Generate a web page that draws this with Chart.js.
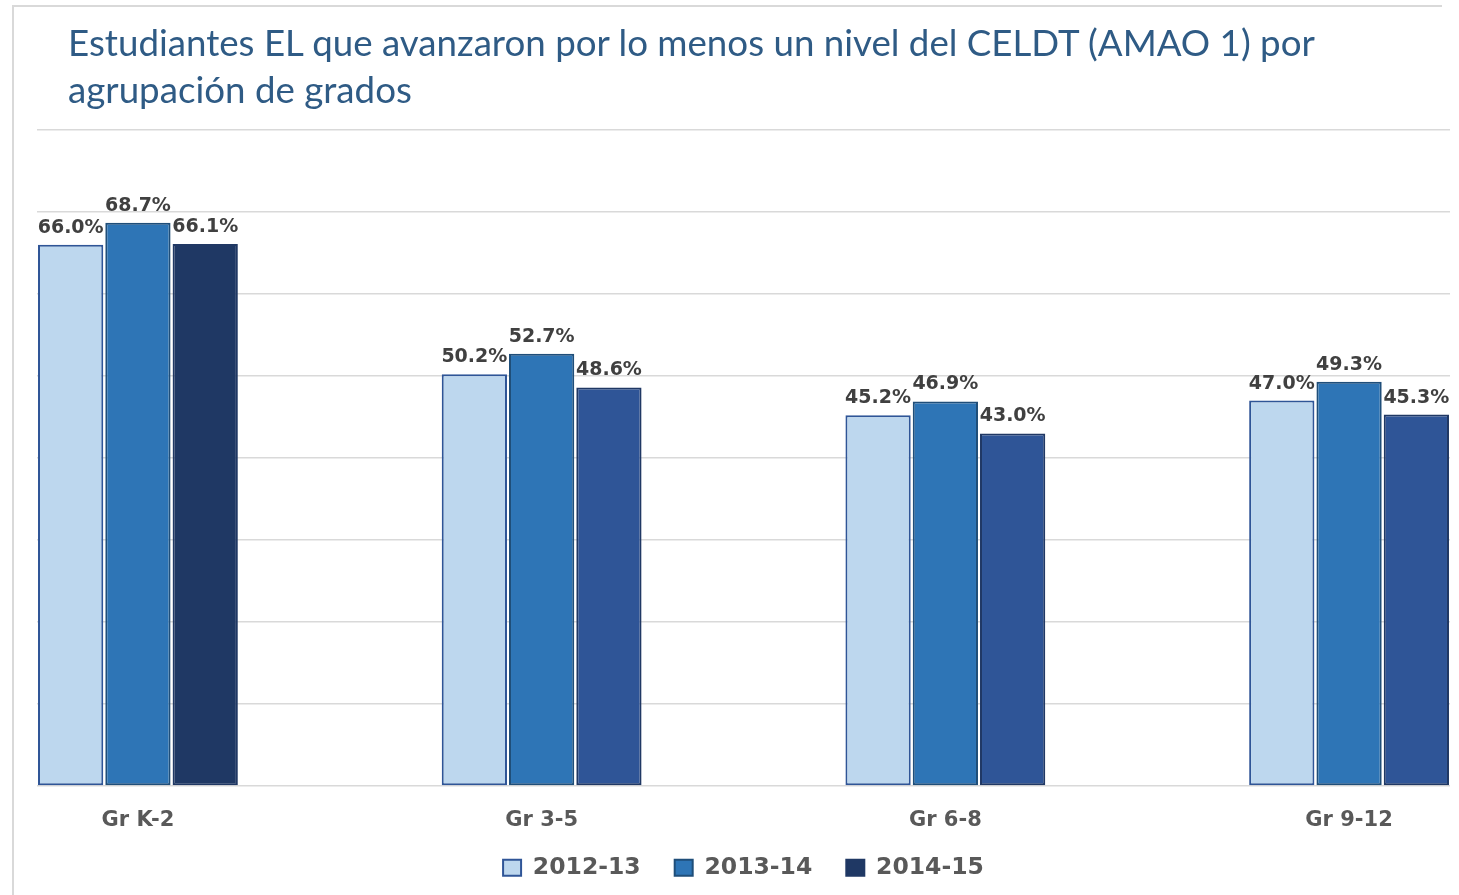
<!DOCTYPE html>
<html>
<head>
<meta charset="utf-8">
<script src="https://cdn.jsdelivr.net/npm/chart.js@4"></script>
<style>
  body { margin: 0; background: #fff; }
  #wrap { position: relative; width: 1459px; height: 895px; overflow: hidden; }
  #frame { position: absolute; left: 12px; top: 5px; width: 1428px; height: 900px;
    border-top: 2px solid #d9d9d9; border-left: 2px solid #d9d9d9; }
  #title { position: absolute; left: 68px; top: 19px; font-family: Lato, sans-serif;
    font-size: 36.7px; line-height: 47px; color: #2f5b85; }
  canvas { position: absolute; left: 0; top: 0; }
</style>
</head>
<body>
<div id="wrap">
  <div id="frame"></div>
  <canvas id="chart" width="1459" height="895"></canvas>
  <div id="title">Estudiantes EL que avanzaron por lo menos un nivel del CELDT (AMAO 1) por<br>agrupación de grados</div>
</div>
<script>
const grades = ["Gr K-2", "Gr 3-5", "Gr 6-8", "Gr 9-12"];
const years = ["2012-13", "2013-14", "2014-15"];
const y2012 = [66.0, 50.2, 45.2, 47.0];
const y2013 = [68.7, 52.7, 46.9, 49.3];
const y2014 = [66.1, 48.6, 43.0, 45.3];
const yTicks = [0, 10, 20, 30, 40, 50, 60, 70, 80];

const fills = ["#bdd7ee", "#2e75b6", "#2f5597"];
const borders = ["#2f5597", "#1f4e79", "#203864"];

const points = vals => vals.map((v, i) => ({ x: i, y: v }));

const barLabels = {
  id: "barLabels",
  afterDatasetsDraw(chart) {
    const ctx = chart.ctx;
    ctx.save();
    ctx.font = "bold 19px 'DejaVu Sans'";
    ctx.fillStyle = "#404040";
    ctx.textAlign = "center";
    ctx.textBaseline = "alphabetic";
    chart.data.datasets.forEach((ds, di) => {
      chart.getDatasetMeta(di).data.forEach((bar, i) => {
        ctx.fillText(ds.data[i].y.toFixed(1) + "%", bar.x, bar.y - 12);
      });
    });
    ctx.restore();
  }
};

// legend sits a bit closer to the axis labels than its padding allows
const legendNudge = {
  id: "legendNudge",
  afterLayout(chart) {
    chart.legend.top -= 9;
    chart.legend.bottom -= 9;
  }
};

new Chart(document.getElementById("chart"), {
  type: "bar",
  data: {
    datasets: [
      { label: years[0], data: points(y2012), backgroundColor: fills[0], borderColor: borders[0] },
      { label: years[1], data: points(y2013), backgroundColor: fills[1], borderColor: borders[1] },
      {
        label: years[2], data: points(y2014), borderColor: borders[2],
        // K-2 bar for the last year is a darker navy in the original
        backgroundColor: c => (c.type === "data" && c.dataIndex === 0) ? "#1f3864" : fills[2]
      }
    ]
  },
  options: {
    responsive: false,
    animation: false,
    layout: { padding: { left: 37, right: 9, top: 130, bottom: 0 } },
    datasets: { bar: { categoryPercentage: 0.5, barPercentage: 0.97, borderWidth: 2, borderSkipped: false } },
    scales: {
      x: {
        type: "linear",
        offset: false,
        min: -0.25,
        max: 3.25,
        afterBuildTicks: s => { s.ticks = grades.map((g, i) => ({ value: i })); },
        afterFit: s => { s.height = 45; },
        grid: { display: false, drawTicks: false },
        border: { display: false },
        ticks: {
          padding: 21.5,
          color: "#595959",
          font: { family: "DejaVu Sans", weight: "bold", size: 21 },
          callback: v => grades[v]
        }
      },
      y: {
        min: 0,
        max: 80,
        afterBuildTicks: s => { s.ticks = yTicks.map(v => ({ value: v })); },
        grid: { color: "#d9d9d9", lineWidth: 1.5, drawTicks: false },
        border: { display: false },
        ticks: { display: false }
      }
    },
    plugins: {
      tooltip: { enabled: false },
      legend: {
        position: "bottom",
        maxHeight: 64,
        labels: {
          boxWidth: 18,
          boxHeight: 16,
          padding: 34,
          color: "#595959",
          font: { family: "DejaVu Sans", weight: "bold", size: 23.5 }
        }
      }
    }
  },
  plugins: [barLabels, legendNudge]
});
</script>
</body>
</html>
